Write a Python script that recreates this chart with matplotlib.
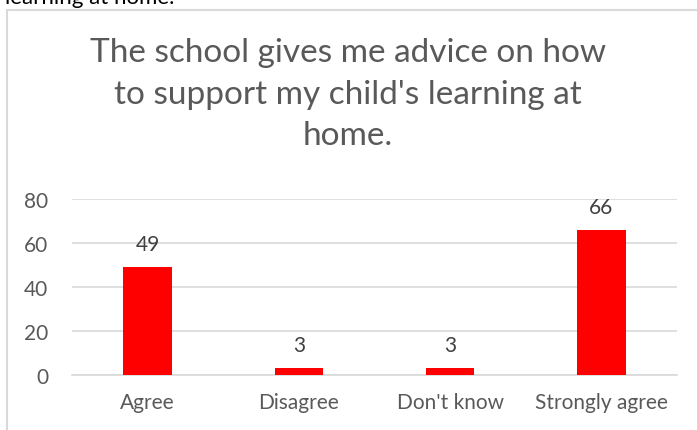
import matplotlib.pyplot as plt
from matplotlib.patches import Rectangle

categories = ["Agree", "Disagree", "Don't know", "Strongly agree"]
values = [49, 3, 3, 66]
yticks = [0, 20, 40, 60, 80]

plt.rcParams['font.family'] = ['Lato', 'DejaVu Sans']

fig = plt.figure(figsize=(6.97, 4.31), dpi=100)
W, H = 697, 431

# chart frame (cut off at right and bottom)
fig.patches.append(Rectangle((7 / W, -0.1), 1.0, 1 - 11 / H + 0.1,
                             transform=fig.transFigure, fill=False,
                             edgecolor="#d9d9d9", linewidth=1.5))

# leftover text from the document above the chart
fig.text(5 / W, 1 + 12 / H, "learning at home.", fontsize=16, color="black",
         va="top", ha="left")

fig.text(348 / W, 1 - 38 / H,
         "The school gives me advice on how\nto support my child's learning at\nhome.",
         fontsize=24, color="#595959", ha="center", va="top", linespacing=1.48)

ax = fig.add_axes([72 / W, 1 - 376 / H, (677 - 72) / W, (376 - 200) / H])
x = range(len(categories))
bars = ax.bar(x, values, width=0.32, color="#ff0000", zorder=3)
for xi, v in zip(x, values):
    ax.text(xi, v + 6, str(v), ha="center", va="bottom", fontsize=15, color="#404040")

ax.set_xlim(-0.5, len(categories) - 0.5)
ax.set_ylim(0, 80)
ax.set_yticks(yticks)
ax.set_xticks(list(x))
ax.set_xticklabels(categories)
ax.grid(axis="y", color="#d9d9d9", linewidth=1.2, zorder=0)
for s in ["top", "right", "left"]:
    ax.spines[s].set_visible(False)
ax.spines["bottom"].set_color("#d9d9d9")
ax.spines["bottom"].set_linewidth(1.2)
ax.tick_params(axis="both", length=0, labelsize=15, labelcolor="#595959")
ax.tick_params(axis="y", pad=17)
ax.tick_params(axis="x", pad=12)

fig.savefig("out.png", dpi=100)
